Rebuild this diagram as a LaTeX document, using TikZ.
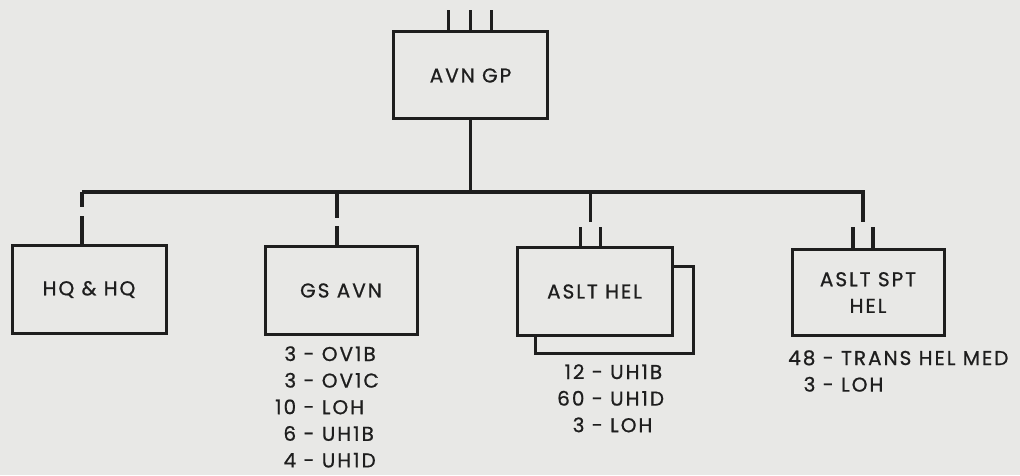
\documentclass[tikz,border=0pt]{standalone}
\usepackage{fontspec}
\setmainfont[LetterSpace=10, FakeBold=0.8]{Poppins}
\usepackage{xcolor}
\usetikzlibrary{positioning}
\definecolor{paper}{HTML}{E8E8E6}
\definecolor{ink}{HTML}{1E1E1E}

\tikzset{
  unitbox/.style={draw=ink, line width=3pt, fill=paper, minimum width=154pt,
                  minimum height=87pt, inner sep=0pt, align=center, text=ink},
  wire/.style={draw=ink, line width=3.2pt},
  echelon/.style={draw=ink, line width=3.6pt},
  holdings/.style={inner sep=0pt, anchor=base west, text=ink}
}

\begin{document}
\begin{tikzpicture}[x=1pt, y=-1pt, font=\fontsize{20pt}{26.6pt}\selectfont]
    \fill[paper] (0,0) rectangle (1020,475);

    % units
    \node[unitbox] (gp) at (470.5,75.5) {AVN GP};
    \node[unitbox] (hq) at (89,289.5) {HQ \& HQ};
    \node[unitbox, minimum width=152pt] (gs) at (341,290.5) {GS AVN};
    \node[unitbox, minimum width=158pt, minimum height=86pt] (ahelb) at (614,310) {};
    \node[unitbox, minimum width=155pt] (ahel) at (594.5,291.5) {ASLT HEL};
    \node[unitbox, minimum width=152pt, minimum height=85pt] (spt) at (868,292.5) {ASLT SPT\\HEL};

    % aircraft
    \node[holdings] (gsac) at (275,361) {%
      \begin{tabular}[t]{@{}r@{\ -\ }l@{}}
        3 & OV1B\\ 3 & OV1C\\ 10 & LOH\\ 6 & UH1B\\ 4 & UH1D
      \end{tabular}};
    \node[holdings] (ahelac) at (557,379) {%
      \begin{tabular}[t]{@{}r@{\ -\ }l@{}}
        12 & UH1B\\ 60 & UH1D\\ 3 & LOH
      \end{tabular}};
    \node[holdings] (sptac) at (788,365) {%
      \begin{tabular}[t]{@{}r@{\ -\ }l@{}}
        48 & TRANS HEL MED\\ 3 & LOH
      \end{tabular}};

    % echelon marks
    \foreach \dx in {-22,0,21}
      \draw[echelon] ([xshift=\dx pt]gp.north) -- ++(0,-20);
    \draw[echelon] ([xshift=-7pt]hq.north) -- ++(0,-28);
    \draw[echelon] ([xshift=-4pt]gs.north) -- ++(0,-19);
    \foreach \dx in {-14,6}
      \draw[echelon] ([xshift=\dx pt]ahel.north) -- ++(0,-19);
    \foreach \dx in {-15,5}
      \draw[echelon] ([xshift=\dx pt]spt.north) -- ++(0,-21);

    % lines
    \coordinate (busw) at (82,192);
    \coordinate (buse) at (863,192);
    \draw[wire] (gp.south) -- (gp.south |- busw);
    \draw[wire] (busw) -- ++(0,15);
    \draw[wire] (busw) -- (buse) -- ++(0,30);
    \draw[wire] ([xshift=-4pt]gs.north |- busw) -- ++(0,26);
    \draw[wire] ([xshift=-4pt]ahel.north |- busw) -- ++(0,30);
\end{tikzpicture}
\end{document}
